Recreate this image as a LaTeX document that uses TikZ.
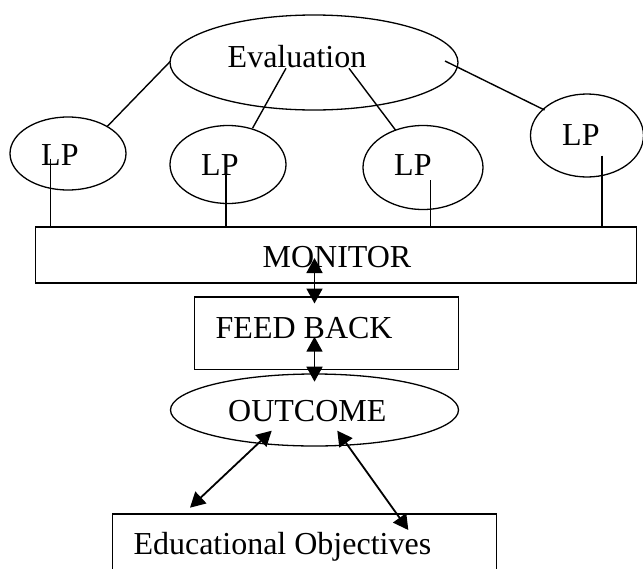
\documentclass[tikz,border=0pt]{standalone}
\usepackage{fontspec}
\setmainfont{Liberation Serif}
\usetikzlibrary{arrows.meta,shapes.geometric}
\begin{document}
\begin{tikzpicture}[x=1pt,y=-1pt,
  oval/.style={draw,ellipse,inner sep=0pt,line width=1.3pt},
  box/.style={draw,rectangle,inner sep=0pt,line width=1.5pt},
  lbl/.style={anchor=base west,inner sep=0pt,font=\fontsize{32}{38}\selectfont},
  link/.style={line width=1.4pt},
  drop/.style={line width=1.7pt},
  twoway/.style={line width=1.8pt,{Triangle[length=15pt,width=16pt]}-{Triangle[length=15pt,width=16pt]}}]
\useasboundingbox (0,0) rectangle (643,568);
\clip (0,0) rectangle (643,568);

% shapes
\node[oval,minimum width=288pt,minimum height=95pt] (eval) at (314,62.5) {};
\node[oval,minimum width=116pt,minimum height=73pt] (lp1) at (68,153.5) {};
\node[oval,minimum width=116pt,minimum height=78pt] (lp2) at (228,164.5) {};
\node[oval,minimum width=120pt,minimum height=84pt] (lp3) at (423,167.5) {};
\node[oval,minimum width=113pt,minimum height=83pt] (lp4) at (587,135.5) {};
\node[box,minimum width=600.6pt,minimum height=56pt] (monitor) at (336,255) {};
\node[box,minimum width=264pt,minimum height=72.5pt] (feedback) at (326.35,333) {};
\node[oval,minimum width=288pt,minimum height=72pt] (outcome) at (314.5,410) {};
\node[box,minimum width=384pt,minimum height=86pt] (objectives) at (304.7,557) {};

% labels
\node[lbl] (tEval) at (227.5,67.5) {Evaluation};
\node[lbl] (tLP1) at (41,165.7) {LP};
\node[lbl] (tLP2) at (201,175.7) {LP};
\node[lbl] (tLP3) at (394,175.7) {LP};
\node[lbl] (tLP4) at (562,145) {LP};
\node[lbl] (tMon) at (262.4,267.3) {MONITOR};
\node[lbl] (tFeed) at (215.5,338) {FEED BACK};
\node[lbl] (tOut) at (228,421.7) {OUTCOME};
\node[lbl] (tObj) at (133.3,554) {Educational Objectives};

% evaluation to lesson plans
\coordinate (e1) at (170,61.7);  \coordinate (p1) at (107,126.7);
\coordinate (e2) at (286,68.3);  \coordinate (p2) at (252.5,128.3);
\coordinate (e3) at (349,68.3);  \coordinate (p3) at (395.5,130);
\coordinate (e4) at (445,61);    \coordinate (p4) at (544.5,110);
\draw[link] (e1) -- (p1);
\draw[link] (e2) -- (p2);
\draw[link] (e3) -- (p3);
\draw[link] (e4) -- (p4);

% lesson plans down to the monitor
\coordinate (v1) at (50.5,158.5);
\coordinate (v2) at (226,165.7);
\coordinate (v3) at (430.5,180);
\coordinate (v4) at (602.3,155.7);
\draw[drop] (v1) -- (v1 |- monitor.north);
\draw[drop] (v2) -- (v2 |- monitor.north);
\draw[drop] (v3) -- (v3 |- monitor.north);
\draw[drop] (v4) -- (v4 |- monitor.north);

% two-way arrows
\coordinate (a1) at (314.5,258);   \coordinate (b1) at (314.5,303.5);
\coordinate (a2) at (314.5,336.7); \coordinate (b2) at (314.5,381.7);
\coordinate (a3) at (271.7,430.7); \coordinate (b3) at (190,507.7);
\coordinate (a4) at (337.3,430.7); \coordinate (b4) at (408.3,530);
\draw[twoway] (a1) -- (b1);
\draw[twoway] (a2) -- (b2);
\draw[twoway] (a3) -- (b3);
\draw[twoway] (a4) -- (b4);
\end{tikzpicture}
\end{document}
